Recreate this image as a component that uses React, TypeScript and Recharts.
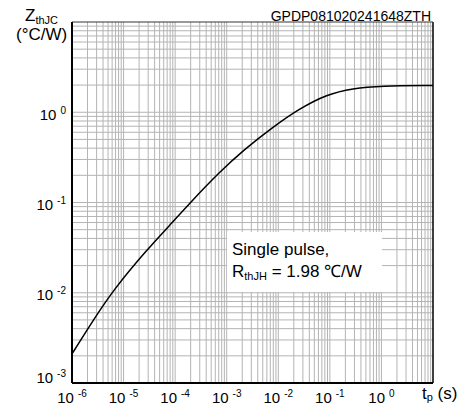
import React from 'react';
import { LineChart, Line, XAxis, YAxis, ReferenceLine } from 'recharts';

// pulse duration (s) and thermal impedance (°C/W)
const tValues = [1e-6, 2.6e-6, 6.3e-6, 2.8e-5, 7.9e-5, 1.9e-4, 7.4e-4, 2.1e-3, 8e-3, 2.6e-2, 8.7e-2, 0.28, 0.94, 10];
const zValues = [2.1e-3, 5.0e-3, 1.07e-2, 2.98e-2, 5.6e-2, 9.8e-2, 0.22, 0.38, 0.69, 1.1, 1.58, 1.84, 1.96, 1.98];

const xTicks = [1e-6, 1e-5, 1e-4, 1e-3, 1e-2, 1e-1, 1e0, 1e1];
const yTicks = [1e-3, 1e-2, 1e-1, 1e0];
const xExponents = ['-6', '-5', '-4', '-3', '-2', '-1', '0'];
const yExponents = ['-3', '-2', '-1', '0'];
const minorSteps = [1, 2, 3, 4, 5, 6, 7, 8, 9];

const data = tValues.map((t, i) => ({ t, z: zValues[i] }));

// log grid: every 1..9 step inside each decade
const xGrid = xTicks.slice(0, -1).flatMap(d => minorSteps.map(m => m * d)).slice(1);
const yGrid = yTicks.flatMap(d => minorSteps.map(m => m * d)).slice(1);

const FONT = '"Liberation Sans", Arial, sans-serif';
const GRID = '#b4b4b4';

const XTick = (props: any) => {
  const { x, y, index } = props;
  if (index === xTicks.length - 1) {
    return (
      <text x={x - 11} y={y + 8} fontFamily={FONT} fontSize={17} fill="#000">
        <tspan>t</tspan>
        <tspan fontSize={11} dy={2}>p</tspan>
        <tspan dy={-2}> (s)</tspan>
      </text>
    );
  }
  return (
    <text x={x} y={y + 12} textAnchor="middle" fontFamily={FONT} fontSize={15} fill="#000">
      <tspan>10</tspan>
      <tspan dx={4} dy={-6} fontSize={10}>{xExponents[index]}</tspan>
    </text>
  );
};

const YTick = (props: any) => {
  const { x, y, index } = props;
  const shift = index === 0 ? 0 : 7.5;
  return (
    <text x={x + 2} y={y + shift} textAnchor="end" fontFamily={FONT} fontSize={15} fill="#000">
      <tspan>10</tspan>
      <tspan dx={4} dy={-6} fontSize={10}>{yExponents[index]}</tspan>
    </text>
  );
};

export default function App() {
  return (
    <div style={{ position: 'absolute', left: 0, top: 0, width: 467, height: 406, background: '#fff' }}>
      <LineChart width={467} height={406} data={data} margin={{ top: 22, right: 34, bottom: 0, left: 0 }}>
        <XAxis
          dataKey="t"
          type="number"
          scale="log"
          domain={[1e-6, 10]}
          ticks={xTicks}
          allowDataOverflow
          interval={0}
          height={23}
          tickLine={false}
          axisLine={{ stroke: '#000', strokeWidth: 2 }}
          tick={<XTick />}
        />
        <YAxis
          type="number"
          scale="log"
          domain={[1e-3, 10]}
          ticks={yTicks}
          allowDataOverflow
          interval={0}
          width={72}
          tickLine={false}
          axisLine={{ stroke: '#000', strokeWidth: 2 }}
          tick={<YTick />}
        />
        {xGrid.map(v => (
          <ReferenceLine key={'x' + v} x={v} stroke={GRID} strokeWidth={1} />
        ))}
        {yGrid.map(v => (
          <ReferenceLine key={'y' + v} y={v} stroke={GRID} strokeWidth={1} />
        ))}
        <ReferenceLine x={10} stroke="#000" strokeWidth={1.5} />
        <ReferenceLine y={10} stroke="#333" strokeWidth={1} />
        <Line
          dataKey="z"
          type="basis"
          stroke="#000"
          strokeWidth={1.5}
          dot={false}
          isAnimationActive={false}
        />
      </LineChart>
      <svg
        width={467}
        height={406}
        style={{ position: 'absolute', left: 0, top: 0, pointerEvents: 'none' }}
        fontFamily={FONT}
      >
        <text x={431} y={21} textAnchor="end" fontSize={14} fill="#000">GPDP081020241648ZTH</text>
        <text x={25} y={21} fontSize={17} fill="#000">
          <tspan>Z</tspan>
          <tspan fontSize={11} dy={3}>thJC</tspan>
        </text>
        <text x={16} y={40} fontSize={17} fill="#000">(°C/W)</text>
        <rect x={227} y={232} width={155} height={60} fill="#fff" />
        <text x={232} y={255} fontSize={17} fill="#000">Single pulse,</text>
        <text x={232} y={277} fontSize={17} fill="#000">
          <tspan>R</tspan>
          <tspan fontSize={11} dy={3}>thJH</tspan>
          <tspan dy={-3}> = 1.98 ℃/W</tspan>
        </text>
      </svg>
    </div>
  );
}
